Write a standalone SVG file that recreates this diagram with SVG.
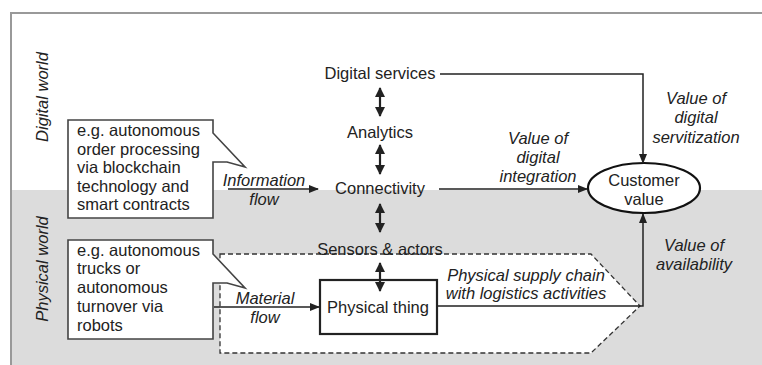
<svg xmlns="http://www.w3.org/2000/svg" width="762" height="365" viewBox="0 0 762 365">
<defs>
<style>
text{font-family:"Liberation Sans",Arial,sans-serif;font-size:16.5px;fill:#222}
.it{font-style:italic}
.m{text-anchor:middle}
.ln{fill:none;stroke:#222;stroke-width:1.5}
.dbl{fill:none;stroke:#222;stroke-width:2.2}
.dash{fill:#fff;stroke:#333;stroke-width:1.3;stroke-dasharray:5 3}
.call{fill:#fff;stroke:#444;stroke-width:1.6}
</style>
<marker id="ah" markerUnits="userSpaceOnUse" markerWidth="10" markerHeight="8" refX="9" refY="4" orient="auto"><path d="M0,0 L10,4 L0,8 Z" fill="#222"/></marker>
<marker id="dh" markerUnits="userSpaceOnUse" markerWidth="10" markerHeight="10" refX="9" refY="5" orient="auto-start-reverse"><path d="M0,0 L10,5 L0,10 Z" fill="#222"/></marker>
</defs>
<rect x="0" y="0" width="762" height="365" fill="#fff"/>
<rect x="11" y="190" width="751" height="175" fill="#dcdcdc"/>
<path d="M11,365 V13 H762" fill="none" stroke="#999" stroke-width="2"/>
<g id="labels-worlds">
<text class="it m" transform="translate(48,97) rotate(-90)">Digital world</text>
<text class="it m" transform="translate(48,269) rotate(-90)">Physical world</text>
</g>
<g id="supply-chain">
<path class="dash" d="M220,254 H591 L640,306 L591,353 H220 Z"/>
<text class="it m" x="526" y="281">Physical supply chain</text>
<text class="it m" x="526" y="299">with logistics activities</text>
</g>
<g id="digital-services"><text class="m" x="380" y="79">Digital services</text></g>
<g id="analytics"><text class="m" x="380" y="138">Analytics</text></g>
<g id="connectivity"><text class="m" x="380" y="194">Connectivity</text></g>
<g id="sensors"><text class="m" x="380" y="255">Sensors &amp; actors</text></g>
<g id="physical-thing">
<rect x="320" y="280" width="117" height="54" fill="#fff" stroke="#222" stroke-width="2.2"/>
<text class="m" x="378" y="313">Physical thing</text>
</g>
<g id="customer-value">
<ellipse cx="644" cy="188" rx="56" ry="25" fill="#fff" stroke="#111" stroke-width="2.2"/>
<text class="m" x="644" y="186">Customer</text>
<text class="m" x="644" y="205">value</text>
</g>
<g id="callout-digital">
<path class="call" d="M68,120 H213 V133 L245,167 L227,162 H213 V218 H68 Z"/>
<text x="77" y="136">e.g. autonomous</text>
<text x="77" y="155">order processing</text>
<text x="77" y="173">via blockchain</text>
<text x="77" y="192">technology and</text>
<text x="77" y="210">smart contracts</text>
</g>
<g id="callout-physical">
<path class="call" d="M68,240 H213 V254 L245,288 L227,283 H213 V339 H68 Z"/>
<text x="77" y="256">e.g. autonomous</text>
<text x="77" y="274">trucks or</text>
<text x="77" y="293">autonomous</text>
<text x="77" y="312">turnover via</text>
<text x="77" y="331">robots</text>
</g>
<g id="connectors">
<path class="ln" d="M440,74 H643 V163" marker-end="url(#ah)"/>
<path class="ln" d="M439,189 H587" marker-end="url(#ah)"/>
<path class="ln" d="M437,306 H643 V214" marker-end="url(#ah)"/>
<path class="ln" d="M228,189 H318" marker-end="url(#ah)"/>
<path class="ln" d="M214,307 H319" marker-end="url(#ah)"/>
<path class="dbl" d="M380,88 V116" marker-start="url(#dh)" marker-end="url(#dh)"/>
<path class="dbl" d="M380,145 V174" marker-start="url(#dh)" marker-end="url(#dh)"/>
<path class="dbl" d="M380,204 V232" marker-start="url(#dh)" marker-end="url(#dh)"/>
<path class="dbl" d="M380,263 V291" marker-start="url(#dh)" marker-end="url(#dh)"/>
</g>
<g id="flow-labels">
<text class="it m" x="264" y="186">Information</text>
<text class="it m" x="264" y="205">flow</text>
<text class="it m" x="265" y="304">Material</text>
<text class="it m" x="265" y="323">flow</text>
<text class="it m" x="538" y="144">Value of</text>
<text class="it m" x="538" y="163">digital</text>
<text class="it m" x="538" y="182">integration</text>
<text class="it m" x="696" y="104">Value of</text>
<text class="it m" x="696" y="123">digital</text>
<text class="it m" x="696" y="143">servitization</text>
<text class="it m" x="694" y="251">Value of</text>
<text class="it m" x="694" y="270">availability</text>
</g>
</svg>
